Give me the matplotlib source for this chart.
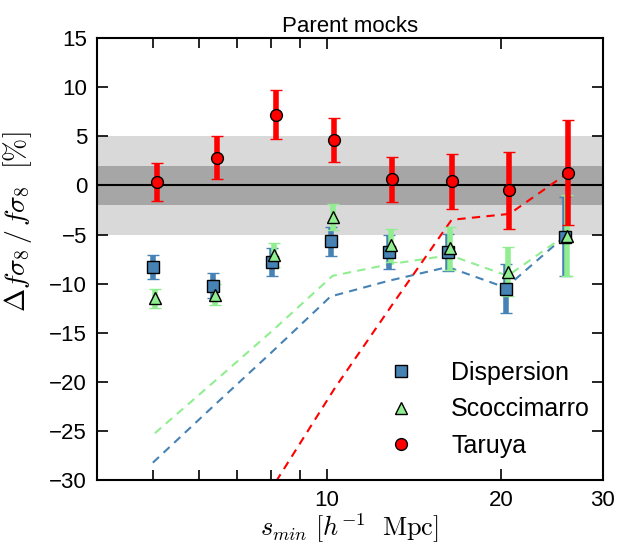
import matplotlib
matplotlib.use('Agg')
import matplotlib.pyplot as plt
import numpy as np

plt.rcParams['font.family'] = ['Liberation Sans', 'DejaVu Sans']
plt.rcParams['mathtext.fontset'] = 'cm'

# s_min values (slightly shifted per series in the original)
s_min = np.array([5.0, 6.35, 8.05, 10.15, 12.8, 16.2, 20.4, 25.8])

disp_val = [-8.3, -10.2, -7.8, -5.7, -6.8, -6.8, -10.5, -5.2]
disp_err = [1.25, 1.3, 1.45, 1.5, 1.75, 1.9, 2.5, 4.0]
scoc_val = [-11.5, -11.1, -7.1, -3.2, -6.1, -6.4, -8.8, -5.1]
scoc_err = [0.95, 1.05, 1.25, 1.3, 1.7, 2.2, 2.5, 4.1]
taru_val = [0.35, 2.8, 7.2, 4.6, 0.6, 0.4, -0.5, 1.3]
taru_err = [1.95, 2.2, 2.5, 2.25, 2.3, 2.8, 3.9, 5.3]

# dashed model curves
disp_model = [-28.2, -22.5, -16.9, -11.3, -9.7, -8.3, -10.4, -5.2]
scoc_model = [-25.2, -19.9, -14.6, -9.2, -8.0, -7.1, -9.2, -5.0]
taru_model_x = s_min[2:]
taru_model = [-30.1, -20.7, -12.1, -3.5, -2.9, 1.3]

c_disp = '#4682b4'
c_scoc = '#90ee90'
c_taru = 'red'

fig = plt.figure(figsize=(6.25, 5.49), dpi=100)
ax = fig.add_axes([0.155, 0.125, 0.809, 0.806])

ax.axhspan(-5, 5, color='#d9d9d9', lw=0, zorder=0)
ax.axhspan(-2, 2, color='#a6a6a6', lw=0, zorder=0)
ax.axhline(0, color='k', lw=1.5, zorder=1)

dash = (0, (4, 3))
ax.plot(s_min, disp_model, ls=dash, color=c_disp, lw=1.5, zorder=2)
ax.plot(s_min * 1.008, scoc_model, ls=dash, color=c_scoc, lw=1.5, zorder=2)
ax.plot(taru_model_x * 1.015, taru_model, ls=dash, color=c_taru, lw=1.5, zorder=2)

ekw = dict(elinewidth=4, capsize=4.5, capthick=4, ls='none',
           markeredgecolor='k', markeredgewidth=1.0, zorder=3)
ax.errorbar(s_min, disp_val, yerr=disp_err, fmt='s', color=c_disp,
            ecolor=c_disp, ms=8.5, label='Dispersion', **ekw)
ax.errorbar(s_min * 1.008, scoc_val, yerr=scoc_err, fmt='^', color=c_scoc,
            ecolor=c_scoc, ms=9, label='Scoccimarro', **ekw)
ax.errorbar(s_min * 1.015, taru_val, yerr=taru_err, fmt='o', color=c_taru,
            ecolor=c_taru, ms=8.5, label='Taruya', **ekw)

ax.set_xscale('log')
ax.set_xlim(4, 30)
ax.set_ylim(-30, 15)
ax.set_xticks([10, 20, 30])
ax.set_xticklabels(['10', '20', '30'])
ax.set_yticks(np.arange(-30, 16, 5))
ax.xaxis.set_minor_formatter(matplotlib.ticker.NullFormatter())
ax.tick_params(which='both', direction='in', top=True, right=True,
               labelsize=16, pad=7)
ax.tick_params(which='major', length=8, width=1.2)
ax.tick_params(which='minor', length=7, width=1.2)
for sp in ax.spines.values():
    sp.set_linewidth(1.5)

ax.set_title('Parent mocks', fontsize=16, pad=4)
ax.set_xlabel(r'$s_{min}\ [h^{-1}\ \ \mathrm{Mpc}]$', fontsize=19, labelpad=0)
ax.set_ylabel(r'$\Delta f\sigma_8\,/\,f\sigma_8\ \ [\%]$', fontsize=20)
ax.yaxis.set_label_coords(-0.125, 0.585)

handles, labels = ax.get_legend_handles_labels()
handles = [h[0] for h in handles]
ax.legend(handles, labels, loc='lower right', frameon=False, numpoints=1,
          fontsize=18, handlelength=1.0, handletextpad=1.5, labelspacing=0.5,
          borderaxespad=0.5, bbox_to_anchor=(1.02, 0.0))

fig.savefig('out.png', dpi=100)
